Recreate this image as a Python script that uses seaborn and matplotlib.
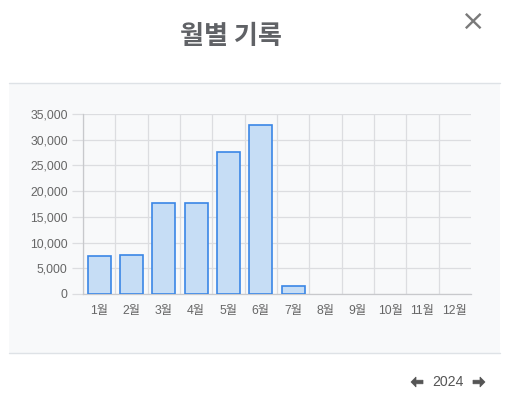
import matplotlib
matplotlib.use("Agg")
import matplotlib.pyplot as plt
import seaborn as sns
import pandas as pd
from matplotlib.patches import Rectangle, Polygon
from matplotlib.lines import Line2D
from matplotlib.ticker import FuncFormatter, FixedLocator

months = ["1월", "2월", "3월", "4월", "5월", "6월", "7월", "8월", "9월", "10월", "11월", "12월"]
counts = [7400, 7500, 17600, 17700, 27700, 32800, 1500, 0, 0, 0, 0, 0]
y_ticks = [0, 5000, 10000, 15000, 20000, 25000, 30000, 35000]
title_text = "월별 기록"
year_text = "2024"

sns.set_theme(style="white")
plt.rcParams["font.family"] = ["Liberation Sans", "Noto Sans CJK KR", "DejaVu Sans"]

W, H = 512, 398
fig = plt.figure(figsize=(W / 100, H / 100), dpi=100, facecolor="white")

def fx(x):
    return x / W

def fy(y):
    return 1 - y / H

# panel background
fig.patches.append(Rectangle((fx(9), fy(353)), fx(500) - fx(9), fy(83) - fy(353),
                             transform=fig.transFigure, facecolor="#f8f9fa",
                             edgecolor="none", zorder=-5))
fig.lines.append(Line2D([fx(9), fx(500)], [fy(83), fy(83)], transform=fig.transFigure,
                        color="#dee2e6", lw=1.0, zorder=-4))
fig.lines.append(Line2D([fx(9), fx(500)], [fy(353), fy(353)], transform=fig.transFigure,
                        color="#dee2e6", lw=1.0, zorder=-4))

ax = fig.add_axes([fx(83), fy(294), fx(471) - fx(83), fy(114) - fy(294)])
ax.set_facecolor("none")

df = pd.DataFrame({"month": months, "count": counts})
sns.barplot(data=df, x="month", y="count", ax=ax, color="#c6ddf5", saturation=1,
            edgecolor="#3a86e6", linewidth=1.2, width=0.72, zorder=3)
for bar in ax.patches:
    if bar.get_height() == 0:
        bar.set_edgecolor("none")

grid_c = "#dcdde0"
ax.set_xlim(-0.5, 11.5)
ax.set_ylim(0, 35000)
ax.set_yticks(y_ticks)
ax.yaxis.set_major_formatter(FuncFormatter(lambda v, p: f"{int(v):,}"))
ax.yaxis.grid(True, color=grid_c, lw=0.9, zorder=0)
ax.xaxis.set_minor_locator(FixedLocator([i - 0.5 for i in range(12)]))
ax.xaxis.grid(True, which="minor", color=grid_c, lw=0.9, zorder=0)
ax.xaxis.grid(False, which="major")
ax.tick_params(axis="x", which="major", length=0, pad=8, labelsize=8.8, labelcolor="#666666")
ax.tick_params(axis="x", which="minor", length=8, width=0.9, color=grid_c, direction="out")
ax.tick_params(axis="y", length=8, width=0.9, color=grid_c, pad=3, labelsize=8.8,
               labelcolor="#666666", left=True)
ax.set_xlabel("")
ax.set_ylabel("")
for s in ["top", "right"]:
    ax.spines[s].set_visible(False)
ax.spines["left"].set_color("#c8c9cc")
ax.spines["bottom"].set_color("#c8c9cc")
ax.spines["left"].set_linewidth(0.9)
ax.spines["bottom"].set_linewidth(0.9)

# header/footer text
fig.text(fx(231), fy(37), title_text, ha="center", va="center", fontsize=18.8,
         fontweight="bold", color="#606266", family=["Noto Sans CJK KR", "DejaVu Sans"])
fig.text(fx(473), fy(22), "×", ha="center", va="center", fontsize=21,
         color="#7a7a7a", family=["DejaVu Sans"])
fig.text(fx(448), fy(382), year_text, ha="center", va="center", fontsize=10.2, color="#555555")

def arrow(cx, cy, direction):
    # arrow shape in pixel units, direction -1 = left, +1 = right
    pts = [(-6, 0), (-1, -5), (-1, -1.8), (6, -1.8), (6, 1.8), (-1, 1.8), (-1, 5)]
    poly = [(fx(cx - direction * px_), fy(cy + py_)) for px_, py_ in pts]
    fig.patches.append(Polygon(poly, closed=True, transform=fig.transFigure,
                               facecolor="#555555", edgecolor="#555555", lw=0.5,
                               joinstyle="miter"))

arrow(417, 382, -1)
arrow(479, 382, 1)

fig.savefig("out.png", dpi=100, facecolor="white")
